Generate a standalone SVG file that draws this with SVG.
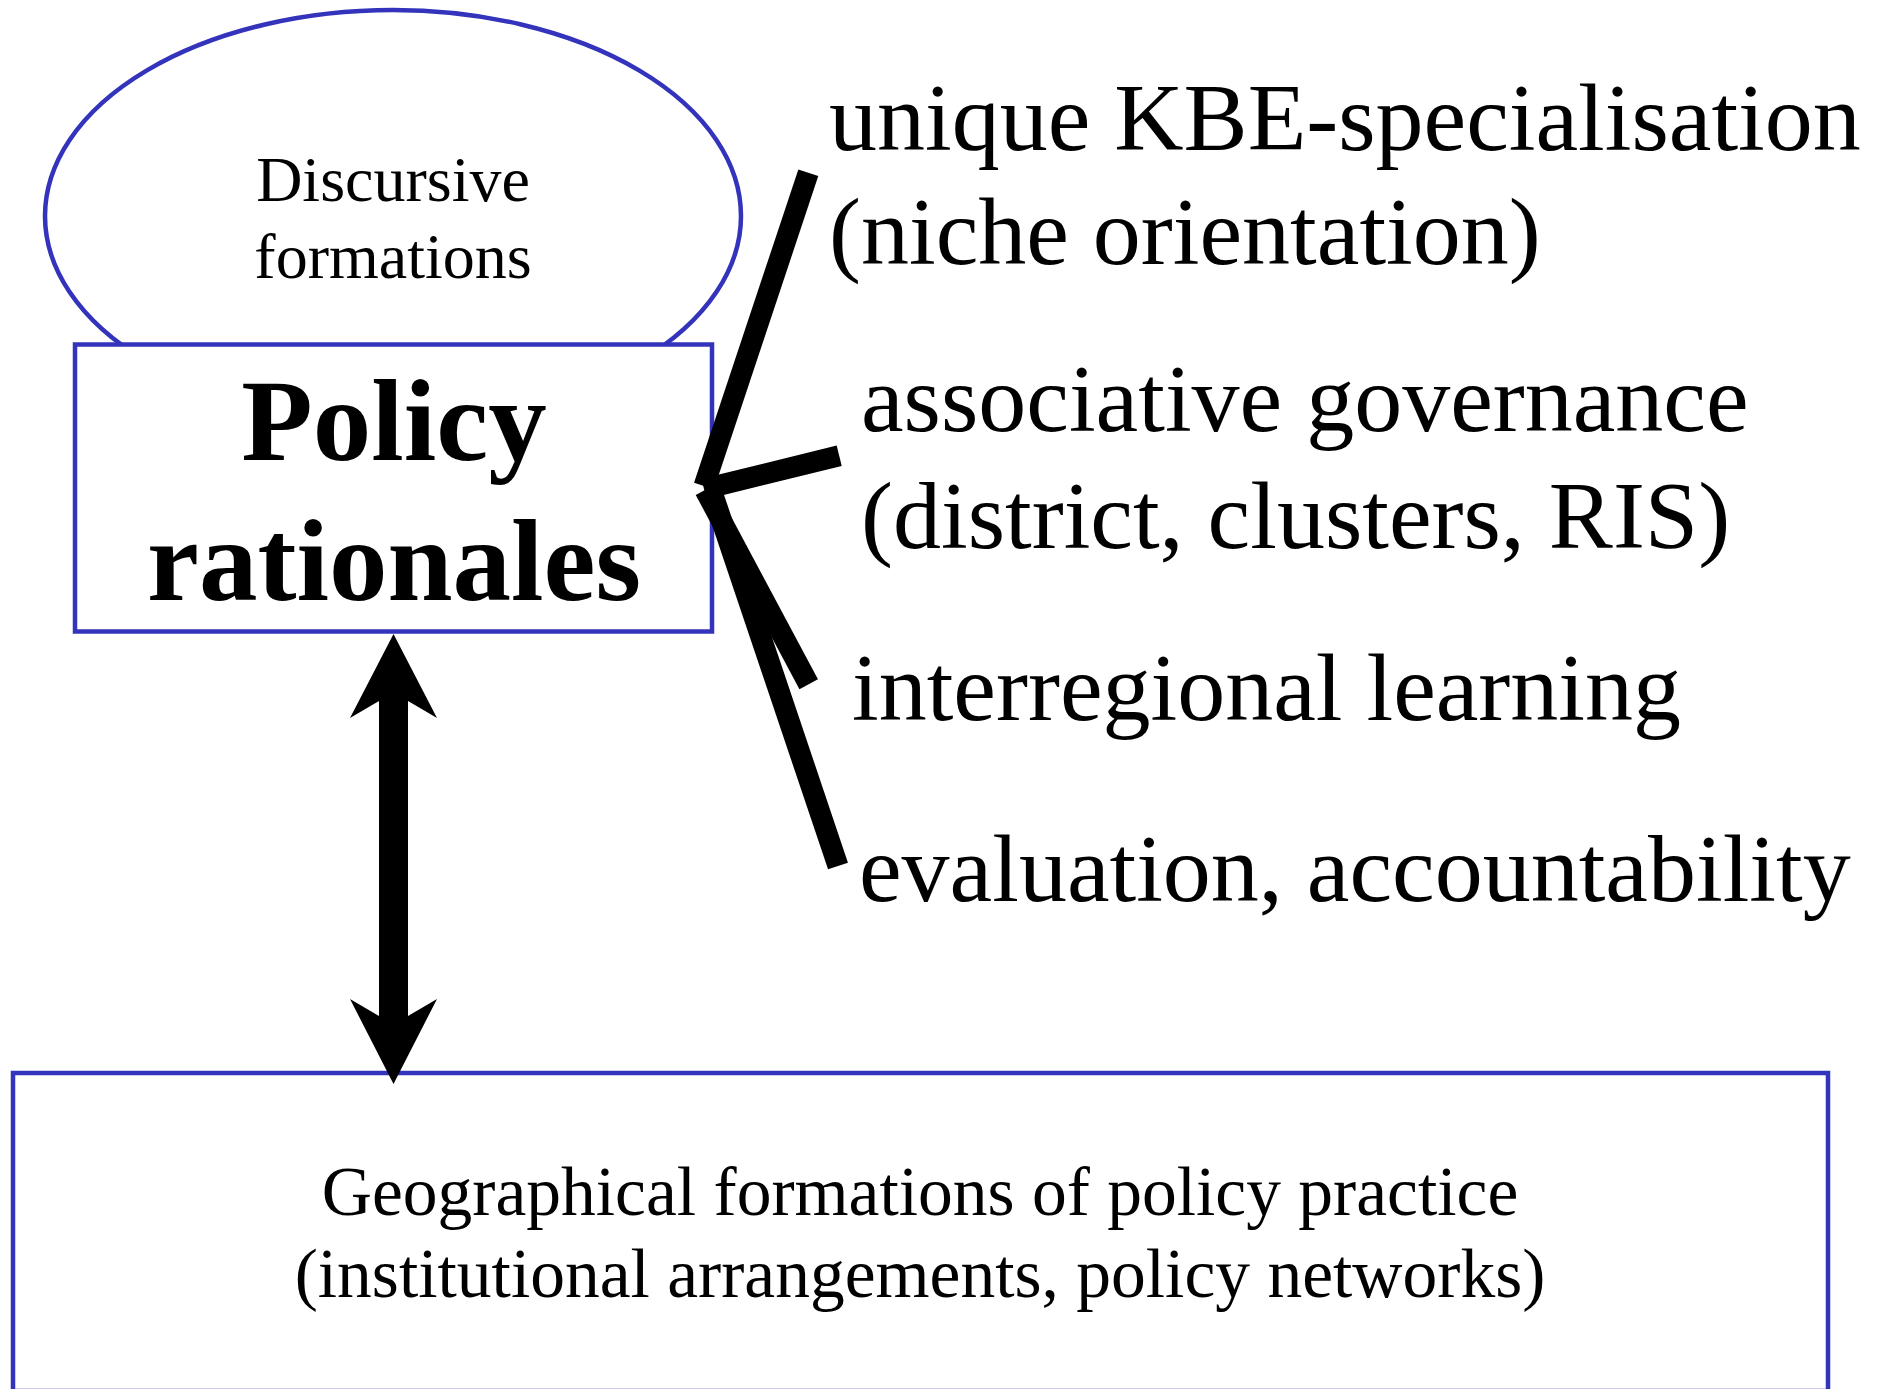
<svg xmlns="http://www.w3.org/2000/svg" width="1881" height="1389" viewBox="0 0 1881 1389">
<style>
.shape{fill:#ffffff;stroke:#3333bb;stroke-width:4.5}
.t{font-family:"Liberation Serif","Times New Roman",serif;fill:#000000}
.lbl{font-size:96px}
.mid{text-anchor:middle}
.br{stroke:#000000;stroke-width:21;stroke-linecap:butt;fill:none}
</style>
<rect width="1881" height="1389" fill="#ffffff"/>
<g id="discursive">
<ellipse class="shape" cx="393" cy="216" rx="348" ry="206"/>
<text class="t mid" x="393" y="201" font-size="64">Discursive</text>
<text class="t mid" x="393" y="278" font-size="64">formations</text>
</g>
<g id="policy">
<rect class="shape" x="75" y="344.5" width="637" height="287"/>
<text class="t mid" x="394" y="460" font-size="117" font-weight="bold">Policy</text>
<text class="t mid" x="394" y="600" font-size="117" font-weight="bold">rationales</text>
</g>
<g id="geographical">
<rect class="shape" x="13" y="1073" width="1815" height="318"/>
<text class="t mid" x="920" y="1215" font-size="69.5">Geographical formations of policy practice</text>
<text class="t mid" x="920" y="1297" font-size="69.5">(institutional arrangements, policy networks)</text>
</g>
<g id="labels">
<text class="t lbl" x="829" y="149.5">unique KBE-specialisation</text>
<text class="t lbl" x="829" y="264">(niche orientation)</text>
<text class="t lbl" x="861" y="431">associative governance</text>
<text class="t lbl" x="861" y="548">(district, clusters, RIS)</text>
<text class="t lbl" x="852" y="720">interregional learning</text>
<text class="t lbl" x="859" y="901">evaluation, accountability</text>
</g>
<g id="connectors">
<line class="br" x1="808.3" y1="172.8" x2="704" y2="486"/>
<line class="br" x1="839.2" y1="455.7" x2="704" y2="489"/>
<line class="br" x1="808.7" y1="684.3" x2="705" y2="490"/>
<line class="br" x1="838" y1="866" x2="712" y2="492"/>
<polygon fill="#000000" points="393.5,634 437,718 408,701 408,1016 437,999 393.5,1084 350,999 379,1016 379,701 350,718"/>
</g>
</svg>
